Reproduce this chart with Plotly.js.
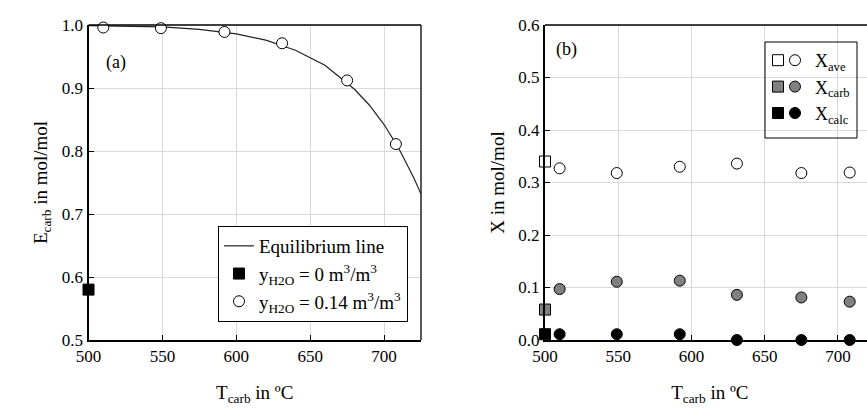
<!DOCTYPE html>
<html>
<head>
<meta charset="utf-8">
<script src="https://cdn.plot.ly/plotly-3.0.1.min.js"></script>
<style>
html,body{margin:0;padding:0;overflow:hidden;background:#fff;}
#chart{width:880px;height:410px;}
#chart svg text, #chart svg tspan { font-family: "Liberation Serif", "Times New Roman", serif !important; }
</style>
</head>
<body>
<div id="chart"></div>
<script>
// ---- Panel (a) data ----
const eqT = [500, 525, 550, 575, 600, 620, 640, 660, 680, 690, 700, 710, 720, 725];
const eqE = [0.999, 0.998, 0.997, 0.993, 0.986, 0.976, 0.960, 0.936, 0.898, 0.873, 0.842, 0.804, 0.758, 0.732];
const dryT = [500];
const dryE = [0.58];
const wetT = [510, 549, 592, 631, 675, 708];
const wetE = [0.996, 0.995, 0.989, 0.971, 0.912, 0.811];

// ---- Panel (b) data ----
const sqT = [500];
const aveSq = [0.340];
const carbSq = [0.058];
const calcSq = [0.011];
const ciT = [510, 549, 592, 631, 675, 708];
const aveCi = [0.327, 0.318, 0.330, 0.336, 0.318, 0.319];
const carbCi = [0.097, 0.111, 0.113, 0.086, 0.081, 0.073];
const calcCi = [0.011, 0.011, 0.011, 0.000, 0.000, 0.000];

const W = 880, H = 410;
const SERIF = "Liberation Serif";
const px = v => v / W;
const py = v => (H - v) / H;
const fnt = (s) => ({family: SERIF, size: s, color: '#000'});

const traces = [
  {x: eqT, y: eqE, xaxis: 'x', yaxis: 'y', mode: 'lines', name: 'Equilibrium line',
   line: {color: '#222', width: 1.2}, legend: 'legend', showlegend: true},
  {x: dryT, y: dryE, xaxis: 'x', yaxis: 'y', mode: 'markers',
   name: 'y<sub>H2O</sub> = 0 m<sup>3</sup>/m<sup>3</sup>',
   marker: {symbol: 'square', size: 11, color: '#000', line: {color: '#000', width: 1}},
   legend: 'legend', showlegend: true, cliponaxis: false},
  {x: wetT, y: wetE, xaxis: 'x', yaxis: 'y', mode: 'markers',
   name: 'y<sub>H2O</sub> = 0.14 m<sup>3</sup>/m<sup>3</sup>',
   marker: {symbol: 'circle', size: 11, color: '#fff', line: {color: '#000', width: 1}},
   legend: 'legend', showlegend: true, cliponaxis: false},

  {x: sqT, y: aveSq, xaxis: 'x2', yaxis: 'y2', mode: 'markers', name: ' ',
   marker: {symbol: 'square', size: 11, color: '#fff', line: {color: '#000', width: 1}},
   legend: 'legend2', showlegend: true, cliponaxis: false},
  {x: sqT, y: carbSq, xaxis: 'x2', yaxis: 'y2', mode: 'markers', name: ' ',
   marker: {symbol: 'square', size: 11, color: '#808080', line: {color: '#000', width: 1}},
   legend: 'legend2', showlegend: true, cliponaxis: false},
  {x: sqT, y: calcSq, xaxis: 'x2', yaxis: 'y2', mode: 'markers', name: ' ',
   marker: {symbol: 'square', size: 11, color: '#000', line: {color: '#000', width: 1}},
   legend: 'legend2', showlegend: true, cliponaxis: false},

  {x: ciT, y: aveCi, xaxis: 'x2', yaxis: 'y2', mode: 'markers', name: 'X<sub>ave</sub>',
   marker: {symbol: 'circle', size: 11, color: '#fff', line: {color: '#000', width: 1}},
   legend: 'legend3', showlegend: true, cliponaxis: false},
  {x: ciT, y: carbCi, xaxis: 'x2', yaxis: 'y2', mode: 'markers', name: 'X<sub>carb</sub>',
   marker: {symbol: 'circle', size: 11, color: '#808080', line: {color: '#000', width: 1}},
   legend: 'legend3', showlegend: true, cliponaxis: false},
  {x: ciT, y: calcCi, xaxis: 'x2', yaxis: 'y2', mode: 'markers', name: 'X<sub>calc</sub>',
   marker: {symbol: 'circle', size: 11, color: '#000', line: {color: '#000', width: 1}},
   legend: 'legend3', showlegend: true, cliponaxis: false}
];

function ax(extra) {
  return Object.assign({
    showgrid: true, gridcolor: '#d9d9d9', gridwidth: 1,
    zeroline: false, showline: true, linecolor: '#000', linewidth: 2,
    ticks: 'inside', ticklen: 5, tickcolor: '#000', tickwidth: 1,
    tickfont: fnt(17)
  }, extra);
}

const layout = {
  width: W, height: H,
  margin: {l: 0, r: 0, t: 0, b: 0},
  paper_bgcolor: '#fff', plot_bgcolor: '#fff',
  font: fnt(17),
  xaxis: ax({domain: [px(88.5), px(421)], range: [500, 725], dtick: 50, anchor: 'y',
    title: {text: 'T<sub>carb</sub> in ºC', font: fnt(19), standoff: 20}}),
  yaxis: ax({domain: [py(340), py(25)], range: [0.5, 1.0], dtick: 0.1, tickformat: '.1f', anchor: 'x',
    title: {text: 'E<sub>carb</sub> in mol/mol', font: fnt(19), standoff: 9}}),
  xaxis2: ax({domain: [px(545), px(874.6)], range: [500, 725], dtick: 50, anchor: 'y2',
    title: {text: 'T<sub>carb</sub> in ºC', font: fnt(19), standoff: 20}}),
  yaxis2: ax({domain: [py(340), py(25)], range: [0, 0.6], dtick: 0.1, tickformat: '.1f', anchor: 'x2',
    title: {text: 'X in mol/mol', font: fnt(19), standoff: 9}}),
  legend: {x: px(218), y: py(226), xanchor: 'left', yanchor: 'top',
    bgcolor: '#fff', bordercolor: '#000', borderwidth: 1, font: fnt(19)},
  legend2: {x: px(758), y: py(42), xanchor: 'left', yanchor: 'top',
    bgcolor: 'rgba(0,0,0,0)', borderwidth: 0, itemwidth: 30, font: fnt(18)},
  legend3: {x: px(775), y: py(42), xanchor: 'left', yanchor: 'top',
    bgcolor: 'rgba(0,0,0,0)', borderwidth: 0, itemwidth: 30, font: fnt(18)},
  shapes: [
    {type: 'line', xref: 'x domain', yref: 'y domain', x0: 0, x1: 1, y0: 1, y1: 1, line: {color: '#000', width: 1.3}},
    {type: 'line', xref: 'x domain', yref: 'y domain', x0: 1, x1: 1, y0: 0, y1: 1, line: {color: '#000', width: 1.3}},
    {type: 'line', xref: 'x2 domain', yref: 'y2 domain', x0: 0, x1: 1, y0: 1, y1: 1, line: {color: '#000', width: 1.3}},
    {type: 'rect', xref: 'paper', yref: 'paper', x0: px(765), x1: px(857), y0: py(138), y1: py(42),
     line: {color: '#000', width: 1}}
  ],
  annotations: [
    {text: '(a)', xref: 'paper', yref: 'paper', x: px(104), y: py(62), xanchor: 'left', yanchor: 'middle',
     showarrow: false, font: fnt(18)},
    {text: '(b)', xref: 'paper', yref: 'paper', x: px(554), y: py(49), xanchor: 'left', yanchor: 'middle',
     showarrow: false, font: fnt(18)}
  ]
};

Plotly.newPlot('chart', traces, layout, {displayModeBar: false, responsive: false, staticPlot: true});
</script>
</body>
</html>
